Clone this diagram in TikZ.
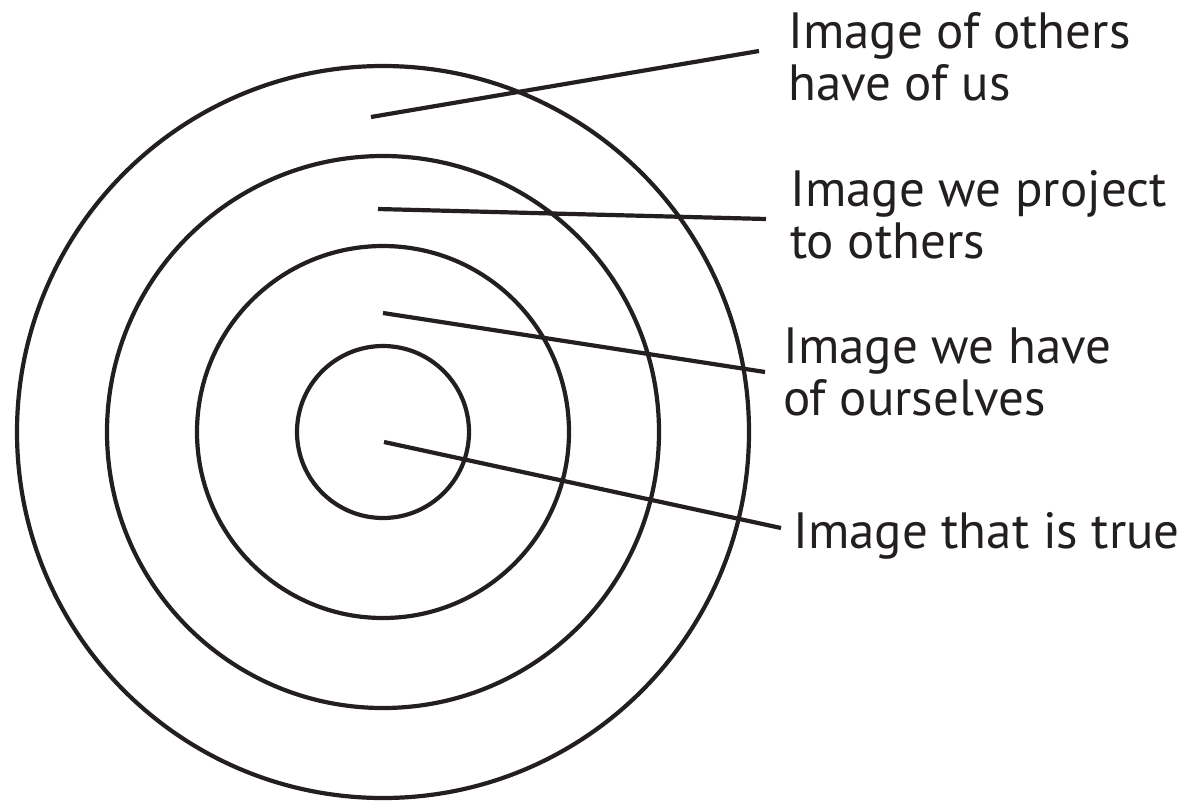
\documentclass[tikz,border=0pt]{standalone}
\usepackage{fontspec}
\setmainfont{PT Sans}
\definecolor{ink}{HTML}{231F20}
\begin{document}
\begin{tikzpicture}[x=1pt,y=-1pt,
  ring/.style={draw=ink, line width=4.2pt},
  leader/.style={draw=ink, line width=4.2pt},
  lab/.style={anchor=base west, inner sep=0pt, align=left, text=ink,
    font=\fontsize{51}{52}\selectfont}]
\useasboundingbox (0,0) rectangle (1192,801);
\coordinate (c) at (383,432);
\draw[ring] (c) circle (366);
\draw[ring] (c) circle (276);
\draw[ring] (c) circle (186);
\draw[ring] (c) circle (86);
\node[lab] (l1) at (788,100) {Image of others\\have of us};
\node[lab] (l2) at (790,258) {Image we project\\to others};
\node[lab] (l3) at (783,415) {Image we have\\of ourselves};
\node[lab] (l4) at (793,548) {Image that is true};
\coordinate (s1) at (371,117);
\coordinate (e1) at (759,51);
\coordinate (s2) at (378,209);
\coordinate (e2) at (766,219);
\coordinate (s3) at (383,313);
\coordinate (e3) at (765,372);
\coordinate (s4) at (384,442);
\coordinate (e4) at (781,528);
\draw[leader] (s1) -- (e1);
\draw[leader] (s2) -- (e2);
\draw[leader] (s3) -- (e3);
\draw[leader] (s4) -- (e4);
\end{tikzpicture}
\end{document}
